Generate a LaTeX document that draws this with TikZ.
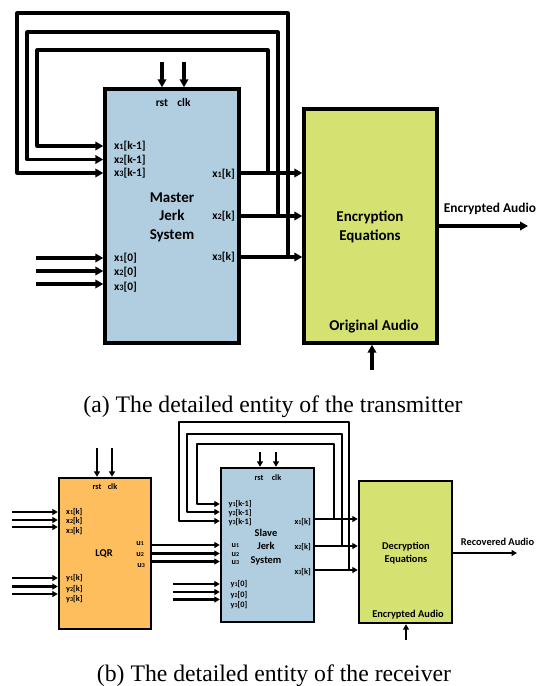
\documentclass[tikz,border=0pt]{standalone}
\usepackage{graphicx}
\usepackage{fontspec}
\setmainfont{Liberation Serif}
\newfontfamily\carl{Carlito}
\usetikzlibrary{arrows.meta}
\definecolor{mblue}{RGB}{176,206,224}
\definecolor{egreen}{RGB}{213,225,112}
\definecolor{lorange}{RGB}{254,190,94}
\newcommand{\dg}[1]{\scalebox{0.72}{#1}}
\tikzset{
 tbox/.style={draw=black, line width=3.4pt, inner sep=0pt},
 bbox/.style={draw=black, line width=2.4pt, inner sep=0pt},
 tw/.style={line width=3.1pt, line join=round},
 bw/.style={line width=2.2pt, line join=round},
 tarr/.style={tw, -{Triangle[length=8pt,width=8.5pt]}},
 barr/.style={bw, -{Triangle[length=5.5pt,width=6pt]}},
 tsmall/.style={font=\carl\bfseries\fontsize{11.5}{13}\selectfont, inner sep=0pt},
 tbig/.style={font=\carl\bfseries\fontsize{15}{18.5}\selectfont, align=center, inner sep=0pt},
 tmid/.style={font=\carl\bfseries\fontsize{13.4}{15}\selectfont, inner sep=0pt},
 bsmall/.style={font=\carl\bfseries\fontsize{8.3}{9}\selectfont, inner sep=0pt},
 bbig/.style={font=\carl\bfseries\fontsize{10.4}{13.5}\selectfont, align=center, inner sep=0pt},
 captext/.style={font=\fontsize{23.7}{28}\selectfont, anchor=base, inner sep=0pt},
}
\begin{document}
\begin{tikzpicture}[x=1pt,y=-1pt]
\useasboundingbox (0,0) rectangle (547,686);
% ================= TOP: transmitter =================
\node[tbox, fill=mblue, minimum width=134pt, minimum height=254pt] (master) at (172,216) {};
\node[tbox, fill=egreen, minimum width=133pt, minimum height=234pt] (enc) at (370.5,226) {};

% rst / clk
\node[tsmall] (rst) at (162,103) {rst};
\node[tsmall] (clk) at (184,103) {clk};
\coordinate (rstin) at (162,62);
\coordinate (clkin) at (184,62);
\draw[tarr] (rstin) -- (master.north -| rstin);
\draw[tarr] (clkin) -- (master.north -| clkin);

% feedback input labels
\node[tsmall, anchor=west] (xk1) at (114,146) {x\dg{1}[k-1]};
\node[tsmall, anchor=west] (xk2) at (114,160) {x\dg{2}[k-1]};
\node[tsmall, anchor=west] (xk3) at (114,173.5) {x\dg{3}[k-1]};
\coordinate (fi1) at (105,146);
\coordinate (fi2) at (105,159.5);
\coordinate (fi3) at (105,173);

% outputs
\node[tsmall, anchor=east] (xo1) at (235,174) {x\dg{1}[k]};
\node[tsmall, anchor=east] (xo2) at (235,216) {x\dg{2}[k]};
\node[tsmall, anchor=east] (xo3) at (235,257) {x\dg{3}[k]};
\coordinate (ja) at (268,173);
\coordinate (jb) at (278,216);
\coordinate (jc) at (288,257);
\draw[tarr] (master.east |- ja) -- (enc.west |- ja);
\draw[tarr] (master.east |- jb) -- (enc.west |- jb);
\draw[tarr] (master.east |- jc) -- (enc.west |- jc);

% feedback loops
\draw[tarr] (ja) -- (268,50) -- (37,50) -- (37,146) -- (master.west |- fi1);
\draw[tarr] (jb) -- (278,32) -- (27,32) -- (27,159.5) -- (master.west |- fi2);
\draw[tarr] (jc) -- (288,13) -- (17,13) -- (17,173) -- (master.west |- fi3);

% initial conditions
\node[tsmall, anchor=west] (x10) at (114,258) {x\dg{1}[0]};
\node[tsmall, anchor=west] (x20) at (114,272.5) {x\dg{2}[0]};
\node[tsmall, anchor=west] (x30) at (114,287) {x\dg{3}[0]};
\coordinate (s1) at (36,258);
\coordinate (s2) at (36,271);
\coordinate (s3) at (36,284);
\draw[tarr] (s1) -- (master.west |- s1);
\draw[tarr] (s2) -- (master.west |- s2);
\draw[tarr] (s3) -- (master.west |- s3);

\node[tbig] (mlabel) at (172,217) {Master\\Jerk\\System};
\node[tbig] (elabel) at (370,227) {Encryption\\Equations};
\node[tbig] (orig) at (374,327) {Original Audio};
\coordinate (origin) at (372,370);
\draw[tarr] (origin) -- (enc.south -| origin);
\coordinate (encout) at (528,226);
\draw[tarr] (enc.east |- encout) -- (encout);
\node[tmid] (encl) at (490,209) {Encrypted Audio};

\node[captext] (capa) at (273,412) {(a) The detailed entity of the transmitter};

% ================= BOTTOM: receiver =================
\node[bbox, fill=lorange, minimum width=92pt, minimum height=151pt] (lqr) at (105,553.5) {};
\node[bbox, fill=mblue, minimum width=93pt, minimum height=154pt] (slave) at (267.5,545) {};
\node[bbox, fill=egreen, minimum width=93pt, minimum height=142pt] (dec) at (405.5,552) {};

% LQR
\node[bsmall] (lrst) at (97,487) {rst};
\node[bsmall] (lclk) at (112.5,487) {clk};
\coordinate (lrstin) at (97,448);
\coordinate (lclkin) at (112,448);
\draw[barr] (lrstin) -- (lqr.north -| lrstin);
\draw[barr] (lclkin) -- (lqr.north -| lclkin);

\node[bsmall, anchor=west] (lx1) at (66,512.5) {x\dg{1}[k]};
\node[bsmall, anchor=west] (lx2) at (66,521.5) {x\dg{2}[k]};
\node[bsmall, anchor=west] (lx3) at (66,531.5) {x\dg{3}[k]};
\coordinate (lxi1) at (12,512);
\coordinate (lxi2) at (12,520);
\coordinate (lxi3) at (12,527);
\draw[barr] (lxi1) -- (lqr.west |- lxi1);
\draw[barr] (lxi2) -- (lqr.west |- lxi2);
\draw[barr] (lxi3) -- (lqr.west |- lxi3);

\node[bsmall, anchor=west] (ly1) at (66,578.5) {y\dg{1}[k]};
\node[bsmall, anchor=west] (ly2) at (66,589) {y\dg{2}[k]};
\node[bsmall, anchor=west] (ly3) at (66,599.5) {y\dg{3}[k]};
\coordinate (lyi1) at (12,578);
\coordinate (lyi2) at (12,586.5);
\coordinate (lyi3) at (12,594);
\draw[barr] (lyi1) -- (lqr.west |- lyi1);
\draw[barr] (lyi2) -- (lqr.west |- lyi2);
\draw[barr] (lyi3) -- (lqr.west |- lyi3);

\node[bbig] (lqrl) at (104,554) {LQR};
\node[bsmall, anchor=east] (lu1) at (144,544) {u\dg{1}};
\node[bsmall, anchor=east] (lu2) at (144,555) {u\dg{2}};
\node[bsmall, anchor=east] (lu3) at (145,566) {u\dg{3}};
\coordinate (uu1) at (151,545);
\coordinate (uu2) at (151,553.5);
\coordinate (uu3) at (151,561.5);
\draw[barr] (lqr.east |- uu1) -- (slave.west |- uu1);
\draw[barr] (lqr.east |- uu2) -- (slave.west |- uu2);
\draw[barr] (lqr.east |- uu3) -- (slave.west |- uu3);

% Slave
\node[bsmall] (srst) at (259,478) {rst};
\node[bsmall] (sclk) at (276.5,478) {clk};
\coordinate (srstin) at (260,452);
\coordinate (sclkin) at (276,452);
\draw[barr] (srstin) -- (slave.north -| srstin);
\draw[barr] (sclkin) -- (slave.north -| sclkin);

\node[bsmall, anchor=west] (sy1) at (228.5,504.5) {y\dg{1}[k-1]};
\node[bsmall, anchor=west] (sy2) at (228.5,513.5) {y\dg{2}[k-1]};
\node[bsmall, anchor=west] (sy3) at (228.5,522) {y\dg{3}[k-1]};
\coordinate (sfi1) at (221,504);
\coordinate (sfi2) at (221,512);
\coordinate (sfi3) at (221,521);

\node[bsmall, anchor=west] (su1) at (231.5,545.5) {u\dg{1}};
\node[bsmall, anchor=west] (su2) at (231.5,554.5) {u\dg{2}};
\node[bsmall, anchor=west] (su3) at (231.5,563) {u\dg{3}};

\node[bsmall, anchor=west] (sy10) at (230.5,584.5) {y\dg{1}[0]};
\node[bsmall, anchor=west] (sy20) at (230.5,595) {y\dg{2}[0]};
\node[bsmall, anchor=west] (sy30) at (230.5,605) {y\dg{3}[0]};
\coordinate (ss1) at (173,584);
\coordinate (ss2) at (173,592);
\coordinate (ss3) at (173,599.5);
\draw[barr] (ss1) -- (slave.west |- ss1);
\draw[barr] (ss2) -- (slave.west |- ss2);
\draw[barr] (ss3) -- (slave.west |- ss3);

\node[bbig] (slabel) at (266,547) {Slave\\Jerk\\System};

\node[bsmall, anchor=east] (so1) at (311,522) {x\dg{1}[k]};
\node[bsmall, anchor=east] (so2) at (311,547) {x\dg{2}[k]};
\node[bsmall, anchor=east] (so3) at (311,572) {x\dg{3}[k]};
\coordinate (ka) at (334,519);
\coordinate (kb) at (342,546);
\coordinate (kc) at (349,570);
\draw[barr] (slave.east |- ka) -- (dec.west |- ka);
\draw[barr] (slave.east |- kb) -- (dec.west |- kb);
\draw[barr] (slave.east |- kc) -- (dec.west |- kc);

\draw[barr] (ka) -- (334,444) -- (197,444) -- (197,504) -- (slave.west |- sfi1);
\draw[barr] (kb) -- (342,434) -- (187,434) -- (187,512) -- (slave.west |- sfi2);
\draw[barr] (kc) -- (349,422) -- (179,422) -- (179,521) -- (slave.west |- sfi3);

% Decryption
\node[bbig] (dlabel) at (406,553) {Decryption\\Equations};
\node[bbig] (dencl) at (408,615) {Encrypted Audio};
\coordinate (decin) at (406,640);
\draw[barr] (decin) -- (dec.south -| decin);
\coordinate (decout) at (517,553);
\draw[barr] (dec.east |- decout) -- (decout);
\node[bbig] (recl) at (497.5,542) {Recovered Audio};

\node[captext] (capb) at (274,681) {(b) The detailed entity of the receiver};
\end{tikzpicture}
\end{document}
